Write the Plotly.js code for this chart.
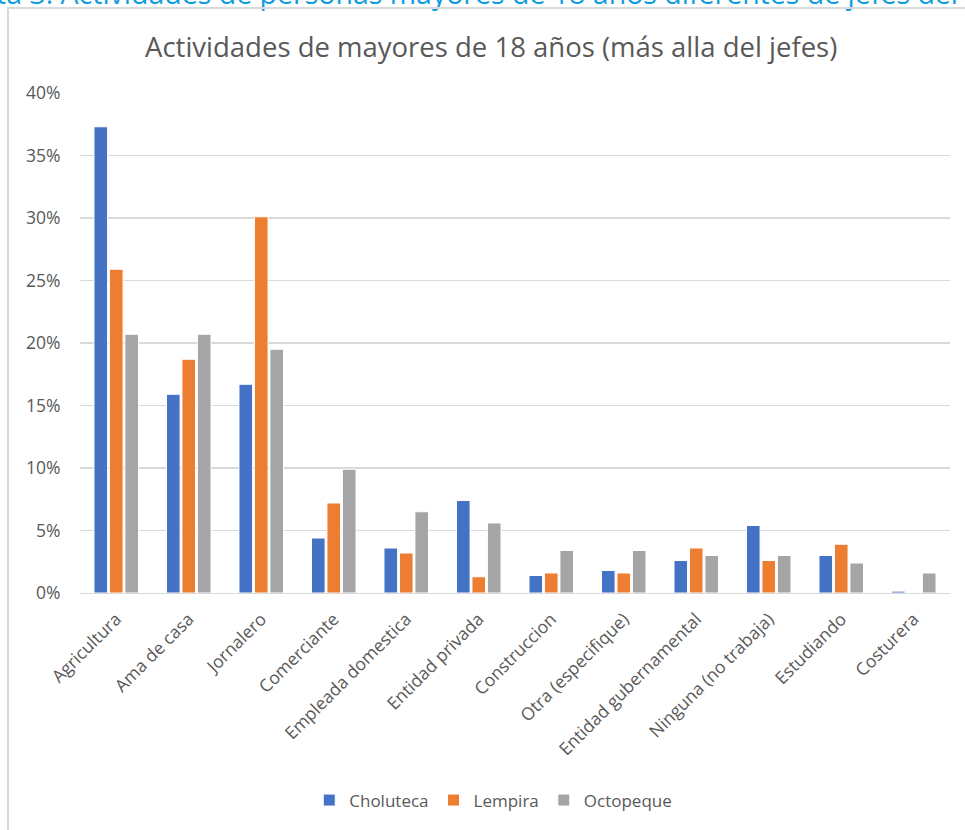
<!DOCTYPE html>
<html>
<head>
<meta charset="utf-8">
<script src="https://cdn.plot.ly/plotly-3.0.1.min.js"></script>
<style>
  html, body { margin: 0; padding: 0; width: 965px; height: 830px; overflow: hidden; background: #fff; }
  #frame { position: absolute; left: 7px; top: 7px; width: 990px; height: 840px; border: 2px solid #d9d9d9; box-sizing: border-box; }
  #caption { position: absolute; left: -4px; top: -26px; font-family: "Open Sans", sans-serif; font-size: 28.5px; line-height: 38px; color: #0f9de0; white-space: nowrap; }
  #chart { position: absolute; left: 0; top: 0; width: 965px; height: 830px; }
</style>
</head>
<body>
<div id="caption">ta 3. Actividades de personas mayores de 18 años diferentes de jefes del</div>
<div id="frame"></div>
<div id="chart"></div>
<script>
const categories = ["Agricultura", "Ama de casa", "Jornalero", "Comerciante", "Empleada domestica",
  "Entidad privada", "Construccion", "Otra (especifique)", "Entidad gubernamental",
  "Ninguna (no trabaja)", "Estudiando", "Costurera"];
const choluteca = [0.373, 0.159, 0.167, 0.044, 0.036, 0.074, 0.014, 0.018, 0.026, 0.054, 0.030, 0.0015];
const lempira   = [0.259, 0.187, 0.301, 0.072, 0.032, 0.013, 0.016, 0.016, 0.036, 0.026, 0.039, 0.0];
const octopeque = [0.207, 0.207, 0.195, 0.099, 0.065, 0.056, 0.034, 0.034, 0.030, 0.030, 0.024, 0.016];
const yTicks = [0, 0.05, 0.10, 0.15, 0.20, 0.25, 0.30, 0.35, 0.40];
const yTickText = ["0%", "5%", "10%", "15%", "20%", "25%", "30%", "35%", "40%"];

const seriesNames = ["Choluteca", "Lempira", "Octopeque"];
const seriesValues = [choluteca, lempira, octopeque];
const seriesColors = ["#4472C4", "#ED7D31", "#A5A5A5"];

const traces = seriesNames.map((n, i) => ({
  type: "bar",
  name: n,
  x: categories,
  y: seriesValues[i],
  marker: { color: seriesColors[i], line: { color: "#ffffff", width: 1 } },
  hoverinfo: "x+y+name"
}));

const font = "'Open Sans', sans-serif";
const layout = {
  width: 965, height: 830,
  paper_bgcolor: "rgba(0,0,0,0)",
  plot_bgcolor: "rgba(0,0,0,0)",
  margin: { l: 80, r: 15, t: 93, b: 235 },
  title: { text: "Actividades de mayores de 18 años (más alla del jefes)", font: { family: font, size: 27.5, color: "#595959" }, x: 0.509, xanchor: "center", y: 0.943, yanchor: "middle" },
  barmode: "group",
  bargap: 0.36,
  bargroupgap: 0.12,
  xaxis: {
    tickangle: -45,
    tickfont: { family: font, size: 17.5, color: "#595959" },
    showgrid: false,
    showline: true, linecolor: "#d9d9d9", linewidth: 1,
    ticks: "outside", ticklen: 8, tickcolor: "rgba(0,0,0,0)", automargin: false
  },
  yaxis: {
    range: [0, 0.4],
    tickvals: yTicks, ticktext: yTickText,
    tickfont: { family: font, size: 17.5, color: "#595959" },
    gridcolor: "#d9d9d9", gridwidth: 1.5,
    zeroline: false, showline: false,
    ticks: "outside", ticklen: 15, tickcolor: "rgba(0,0,0,0)", automargin: false
  },
  legend: {
    orientation: "h", x: 0.475, xanchor: "center", y: -0.415, yanchor: "middle",
    font: { family: font, size: 17, color: "#595959" },
    itemwidth: 30, traceorder: "normal"
  },
  showlegend: true
};

Plotly.newPlot("chart", traces, layout, { displayModeBar: false, staticPlot: true });
</script>
</body>
</html>
